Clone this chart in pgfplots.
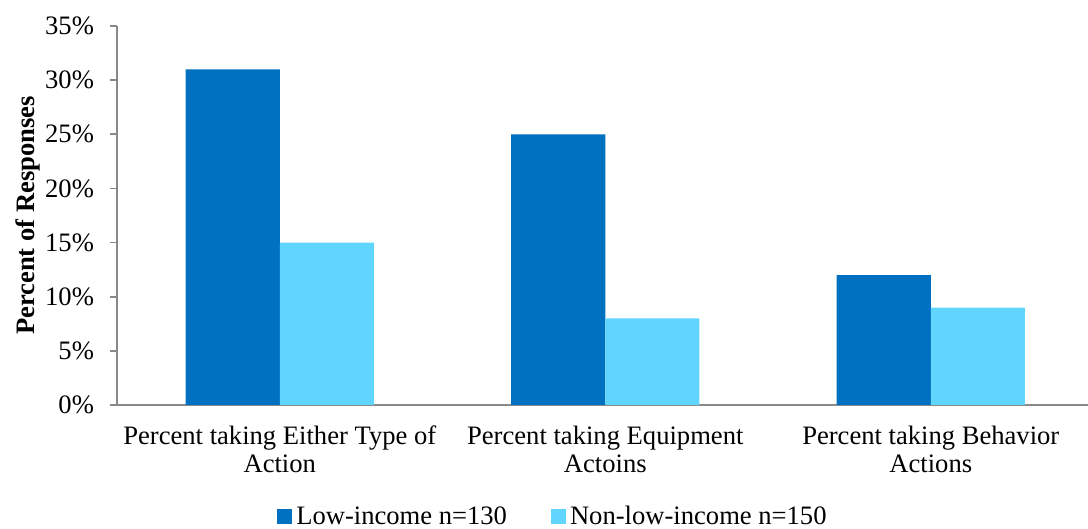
\documentclass[border=0pt]{standalone}
\usepackage{pgfplots}
\pgfplotsset{compat=1.18}
\usepackage{fontspec}
\setmainfont{Liberation Serif}
\definecolor{darkb}{HTML}{0070C0}
\definecolor{lightb}{HTML}{60D6FF}
\definecolor{axgray}{HTML}{898989}
\begin{document}
\begin{tikzpicture}[font=\fontsize{13.3}{14}\selectfont]
\path[use as bounding box] (-58.5pt,-62pt) rectangle (485.5pt,202.5pt);
\begin{axis}[
  at={(0,0)}, anchor=south west,
  scale only axis,
  width=485.5pt, height=189.5pt,
  xmin=-0.5, xmax=2.483,
  ymin=0, ymax=35,
  axis x line=bottom, axis y line=left,
  axis line style={axgray, line width=0.9pt, -},
  every tick/.style={axgray, line width=0.9pt},
  tick align=outside,
  major tick length=3.5pt,
  ytick={0,5,10,15,20,25,30,35},
  yticklabels={0\%,5\%,10\%,15\%,20\%,25\%,30\%,35\%},
  yticklabel style={xshift=-4.5pt},
  xtick={0,1,2},
  xticklabels={{Percent taking Either Type of\\Action},{Percent taking Equipment\\Actoins},{Percent taking Behavior\\Actions}},
  xticklabel style={align=center, yshift=-3.5pt},
  x tick style={draw=none},
  extra x ticks={-0.5,0.5,1.5},
  extra x tick labels={},
  extra x tick style={tick style={axgray, line width=0.9pt, draw=axgray}},
  ylabel={\bfseries Percent of Responses},
  ylabel style={at={(axis description cs:-0.0917,0.5)}, anchor=center},
  ybar,
  bar width=0.289,
  legend columns=2,
  legend style={at={(axis description cs:0.45,-0.295)}, anchor=center, draw=none, fill=none,
    /tikz/every even column/.append style={column sep=20pt}},
  legend image code/.code={\fill[#1] (0pt,-3.75pt) rectangle (7.5pt,3.75pt);},
]
\addplot[fill=darkb, draw=none, bar shift=-0.1445] coordinates {(0,31) (1,25) (2,12)};
\addplot[fill=lightb, draw=none, bar shift=0.1445] coordinates {(0,15) (1,8) (2,9)};
\legend{Low-income n=130, Non-low-income n=150}
\end{axis}
\end{tikzpicture}
\end{document}
